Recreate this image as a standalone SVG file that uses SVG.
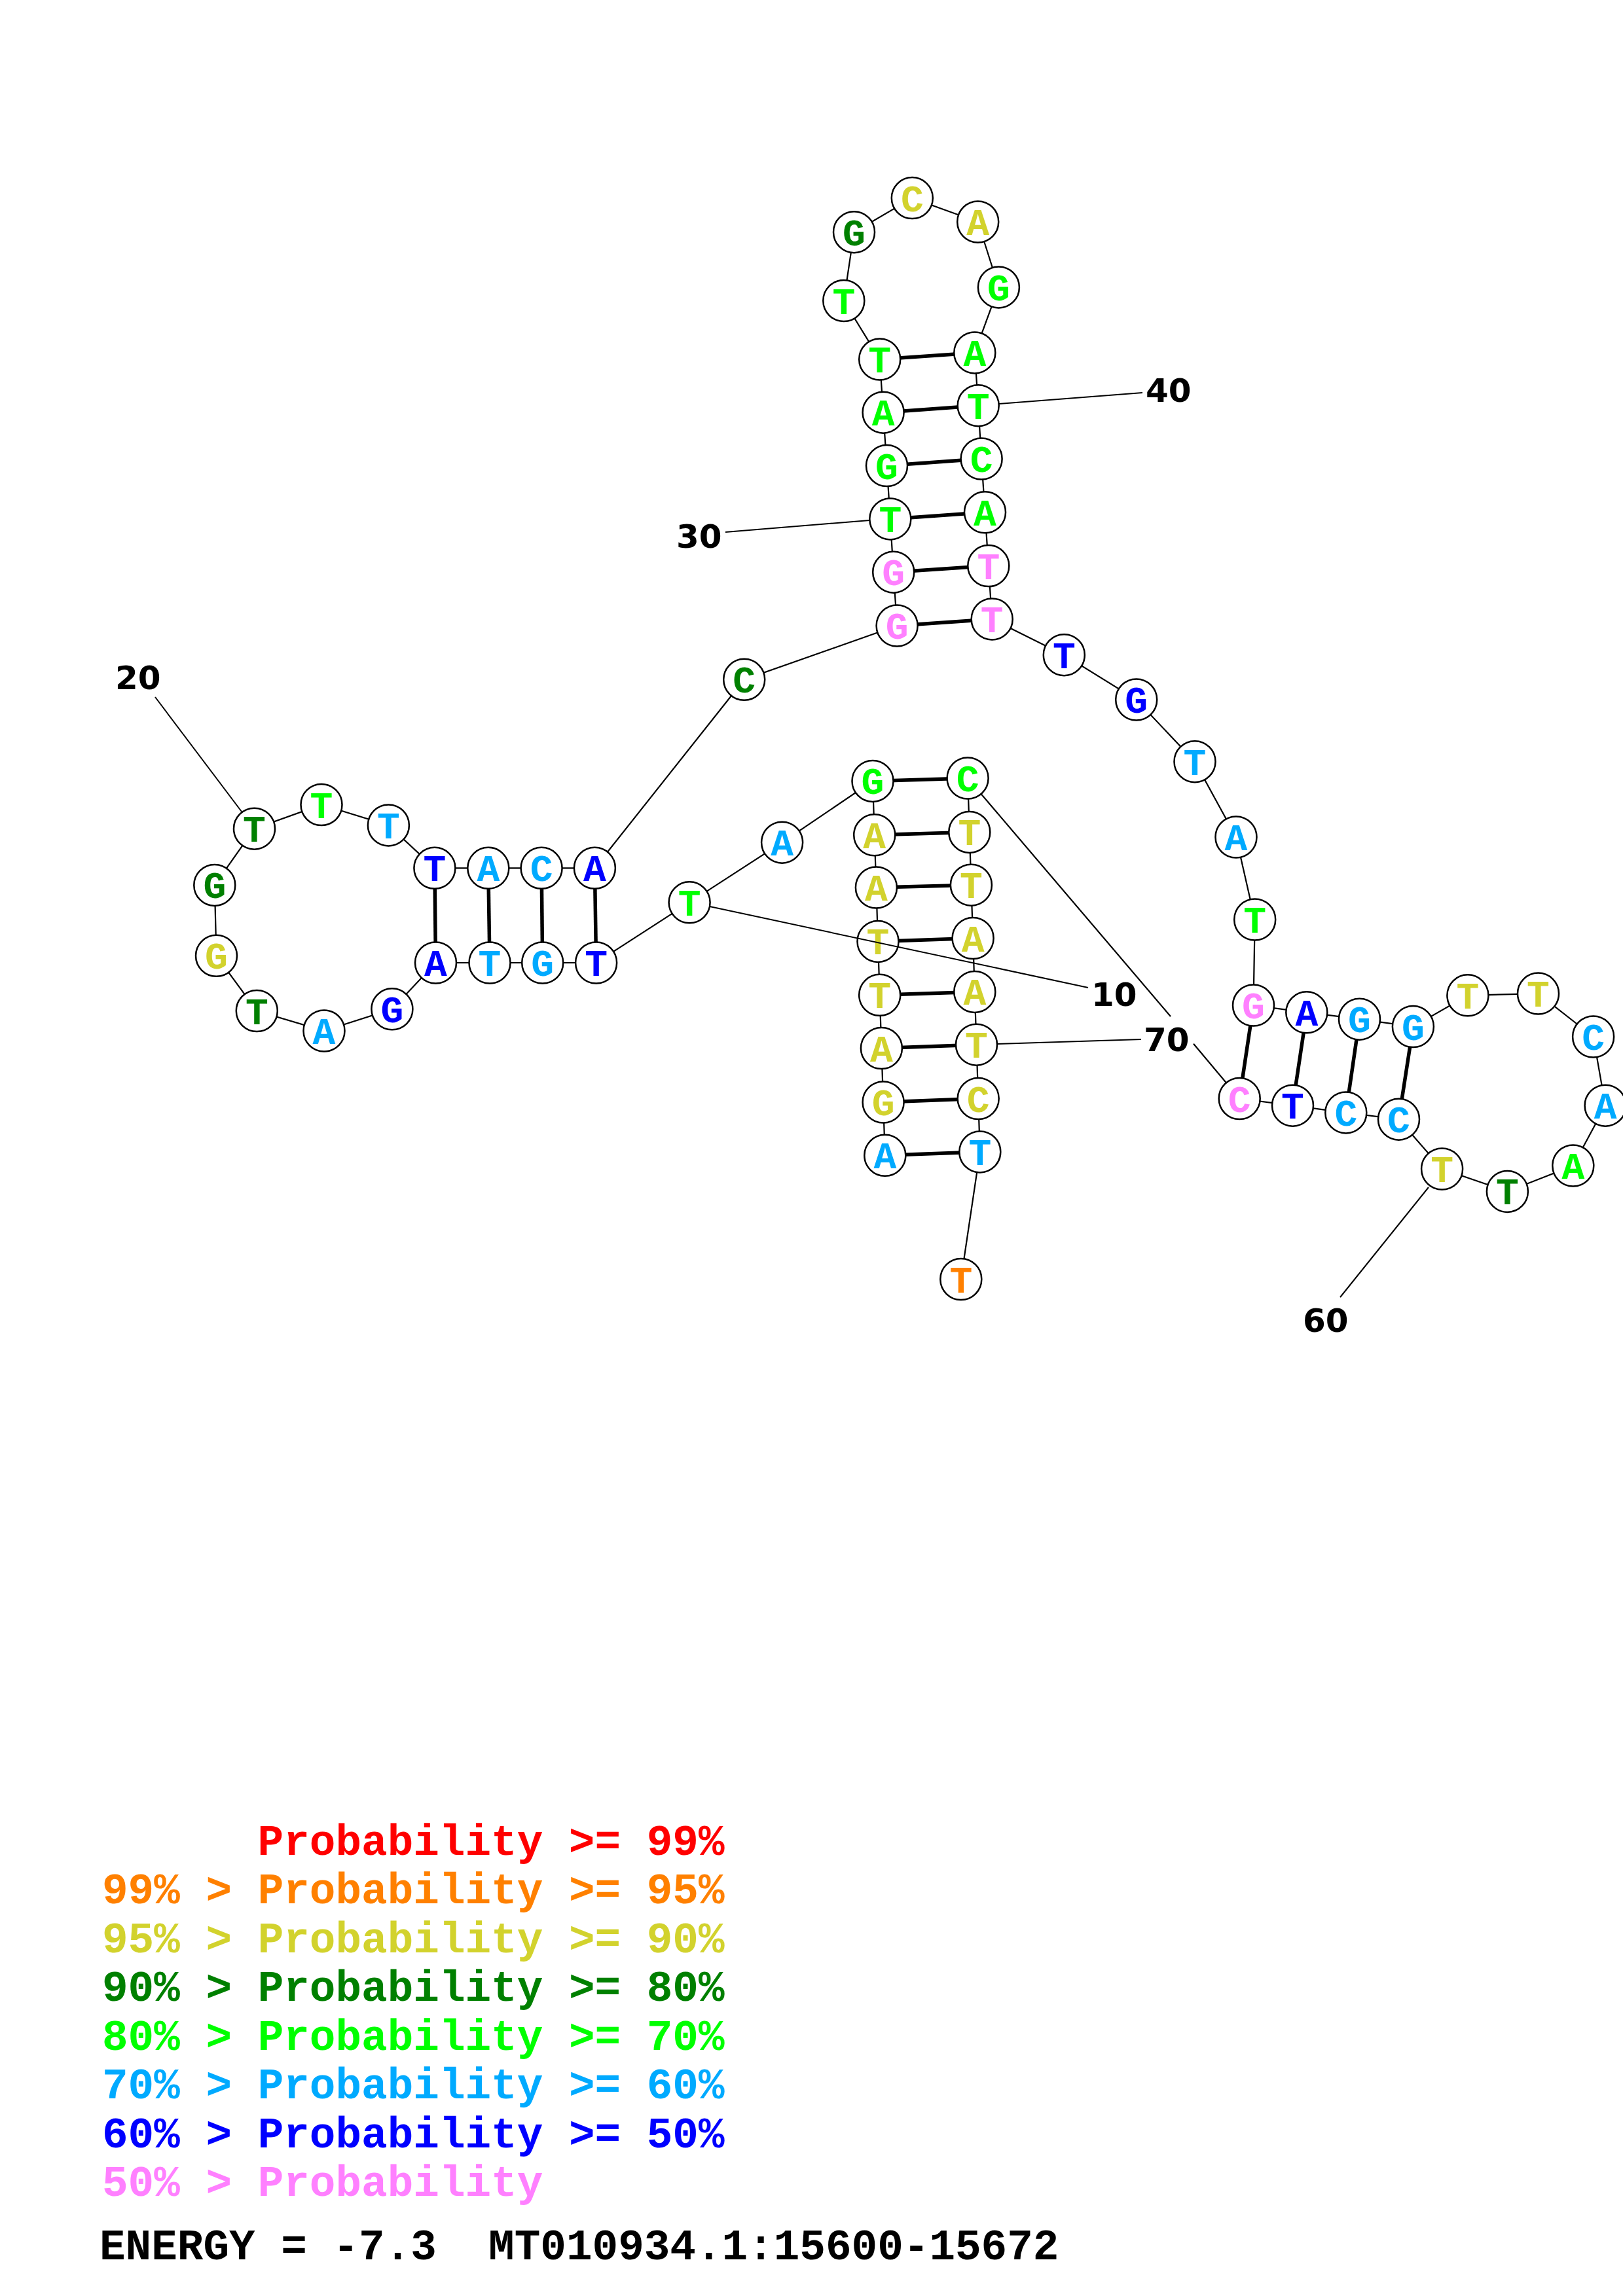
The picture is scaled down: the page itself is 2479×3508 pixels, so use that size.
<svg xmlns="http://www.w3.org/2000/svg" width="2479" height="3508" viewBox="0 0 2479 3508">
<style>
.bb{stroke:#000;stroke-width:2.2;fill:none}
.bp{stroke:#000;stroke-width:5.5;fill:none}
.lbl{stroke:#000;stroke-width:2;fill:none}
circle{fill:#fff;stroke:#000;stroke-width:2.5}
.n text{font-family:"Liberation Mono","Courier New",monospace;font-weight:bold;font-size:58px;text-anchor:middle}
.num{font-family:"DejaVu Sans","Liberation Sans",sans-serif;font-weight:bold;font-size:50px;fill:#000}
.leg{font-family:"Liberation Mono","Courier New",monospace;font-weight:bold;font-size:66px}
.r{fill:#FF0000}.o{fill:#FF8000}.y{fill:#D2D22D}.dg{fill:#008000}.g{fill:#00FF00}.lb{fill:#00AAFF}.b{fill:#0000FF}.p{fill:#FF80FF}.k{fill:#000}
</style>
<rect width="2479" height="3508" fill="#fff"/>
<g id="connectors">
<polyline class="bb" points="1351.8,1765.3 1349.1,1684 1346.4,1601.6 1343.7,1520.3 1341,1438.4 1338.4,1356 1335.7,1275.8 1333,1193.4 1194.6,1287.2 1053.1,1378.8 910.6,1471 828.7,1471 748,1471 665.5,1471 598.9,1541.8 495,1575 392.3,1544.5 330.5,1460.3 327.8,1352.4 388.5,1266.2 491,1229.5 593.4,1260.9 663.9,1326.3 745.8,1326.3 827.1,1326.3 908.4,1326.3 1136.7,1038.3 1370.1,956 1364.7,874.2 1359.8,792.9 1354.5,711.6 1349.1,630.2 1343.7,549 1288.8,459.5 1304.5,354.7 1393.3,302.6 1493.7,339 1525.4,438.9 1488.8,538.9 1494.2,619.7 1499.1,701 1504.5,782.8 1509.8,864.6 1515.2,945.9 1625.3,1000.7 1735.7,1069 1825,1163.7 1888,1279 1916.7,1405 1914.5,1536.1 1995.8,1546.8 2076.5,1557.2 2158.4,1568.6 2241.9,1520.8 2349.5,1518.1 2433.6,1584 2452.1,1689.2 2402.8,1781 2302.4,1820.4 2202.6,1786 2136.5,1710.2 2055.8,1699.9 1974.5,1689.2 1893.2,1678.5 1823,1594.7"/>
<polyline class="bb" points="1788,1553 1478.1,1189 1480.8,1271.4 1483.4,1352.2 1486.1,1433.5 1488.8,1515.4 1491.5,1596.2 1494.2,1678.5 1496.8,1759.9 1467.8,1954.5"/>
<g id="pairs">
<line class="bp" x1="1351.8" y1="1765.3" x2="1496.8" y2="1759.9"/>
<line class="bp" x1="1349.1" y1="1684" x2="1494.2" y2="1678.5"/>
<line class="bp" x1="1346.4" y1="1601.6" x2="1491.5" y2="1596.2"/>
<line class="bp" x1="1343.7" y1="1520.3" x2="1488.8" y2="1515.4"/>
<line class="bp" x1="1341" y1="1438.4" x2="1486.1" y2="1433.5"/>
<line class="bp" x1="1338.4" y1="1356" x2="1483.4" y2="1352.2"/>
<line class="bp" x1="1335.7" y1="1275.8" x2="1480.8" y2="1271.4"/>
<line class="bp" x1="1333" y1="1193.4" x2="1478.1" y2="1189"/>
<line class="bp" x1="910.6" y1="1471" x2="908.4" y2="1326.3"/>
<line class="bp" x1="828.7" y1="1471" x2="827.1" y2="1326.3"/>
<line class="bp" x1="748" y1="1471" x2="745.8" y2="1326.3"/>
<line class="bp" x1="665.5" y1="1471" x2="663.9" y2="1326.3"/>
<line class="bp" x1="1370.1" y1="956" x2="1515.2" y2="945.9"/>
<line class="bp" x1="1364.7" y1="874.2" x2="1509.8" y2="864.6"/>
<line class="bp" x1="1359.8" y1="792.9" x2="1504.5" y2="782.8"/>
<line class="bp" x1="1354.5" y1="711.6" x2="1499.1" y2="701"/>
<line class="bp" x1="1349.1" y1="630.2" x2="1494.2" y2="619.7"/>
<line class="bp" x1="1343.7" y1="549" x2="1488.8" y2="538.9"/>
<line class="bp" x1="1914.5" y1="1536.1" x2="1893.2" y2="1678.5"/>
<line class="bp" x1="1995.8" y1="1546.8" x2="1974.5" y2="1689.2"/>
<line class="bp" x1="2076.5" y1="1557.2" x2="2055.8" y2="1699.9"/>
<line class="bp" x1="2158.4" y1="1568.6" x2="2136.5" y2="1710.2"/>
</g>
</g>
<g class="n">
<g id="n1"><circle cx="1351.8" cy="1765.3" r="31.5"/><text x="1351.8" y="1785.3" class="lb">A</text></g>
<g id="n2"><circle cx="1349.1" cy="1684" r="31.5"/><text x="1349.1" y="1704" class="y">G</text></g>
<g id="n3"><circle cx="1346.4" cy="1601.6" r="31.5"/><text x="1346.4" y="1621.6" class="y">A</text></g>
<g id="n4"><circle cx="1343.7" cy="1520.3" r="31.5"/><text x="1343.7" y="1540.3" class="y">T</text></g>
<g id="n5"><circle cx="1341" cy="1438.4" r="31.5"/><text x="1341" y="1458.4" class="y">T</text></g>
<g id="n6"><circle cx="1338.4" cy="1356" r="31.5"/><text x="1338.4" y="1376" class="y">A</text></g>
<g id="n7"><circle cx="1335.7" cy="1275.8" r="31.5"/><text x="1335.7" y="1295.8" class="y">A</text></g>
<g id="n8"><circle cx="1333" cy="1193.4" r="31.5"/><text x="1333" y="1213.4" class="g">G</text></g>
<g id="n9"><circle cx="1194.6" cy="1287.2" r="31.5"/><text x="1194.6" y="1307.2" class="lb">A</text></g>
<g id="n10"><circle cx="1053.1" cy="1378.8" r="31.5"/><text x="1053.1" y="1398.8" class="g">T</text></g>
<g id="n11"><circle cx="910.6" cy="1471" r="31.5"/><text x="910.6" y="1491" class="b">T</text></g>
<g id="n12"><circle cx="828.7" cy="1471" r="31.5"/><text x="828.7" y="1491" class="lb">G</text></g>
<g id="n13"><circle cx="748" cy="1471" r="31.5"/><text x="748" y="1491" class="lb">T</text></g>
<g id="n14"><circle cx="665.5" cy="1471" r="31.5"/><text x="665.5" y="1491" class="b">A</text></g>
<g id="n15"><circle cx="598.9" cy="1541.8" r="31.5"/><text x="598.9" y="1561.8" class="b">G</text></g>
<g id="n16"><circle cx="495" cy="1575" r="31.5"/><text x="495" y="1595" class="lb">A</text></g>
<g id="n17"><circle cx="392.3" cy="1544.5" r="31.5"/><text x="392.3" y="1564.5" class="dg">T</text></g>
<g id="n18"><circle cx="330.5" cy="1460.3" r="31.5"/><text x="330.5" y="1480.3" class="y">G</text></g>
<g id="n19"><circle cx="327.8" cy="1352.4" r="31.5"/><text x="327.8" y="1372.4" class="dg">G</text></g>
<g id="n20"><circle cx="388.5" cy="1266.2" r="31.5"/><text x="388.5" y="1286.2" class="dg">T</text></g>
<g id="n21"><circle cx="491" cy="1229.5" r="31.5"/><text x="491" y="1249.5" class="g">T</text></g>
<g id="n22"><circle cx="593.4" cy="1260.9" r="31.5"/><text x="593.4" y="1280.9" class="lb">T</text></g>
<g id="n23"><circle cx="663.9" cy="1326.3" r="31.5"/><text x="663.9" y="1346.3" class="b">T</text></g>
<g id="n24"><circle cx="745.8" cy="1326.3" r="31.5"/><text x="745.8" y="1346.3" class="lb">A</text></g>
<g id="n25"><circle cx="827.1" cy="1326.3" r="31.5"/><text x="827.1" y="1346.3" class="lb">C</text></g>
<g id="n26"><circle cx="908.4" cy="1326.3" r="31.5"/><text x="908.4" y="1346.3" class="b">A</text></g>
<g id="n27"><circle cx="1136.7" cy="1038.3" r="31.5"/><text x="1136.7" y="1058.3" class="dg">C</text></g>
<g id="n28"><circle cx="1370.1" cy="956" r="31.5"/><text x="1370.1" y="976" class="p">G</text></g>
<g id="n29"><circle cx="1364.7" cy="874.2" r="31.5"/><text x="1364.7" y="894.2" class="p">G</text></g>
<g id="n30"><circle cx="1359.8" cy="792.9" r="31.5"/><text x="1359.8" y="812.9" class="g">T</text></g>
<g id="n31"><circle cx="1354.5" cy="711.6" r="31.5"/><text x="1354.5" y="731.6" class="g">G</text></g>
<g id="n32"><circle cx="1349.1" cy="630.2" r="31.5"/><text x="1349.1" y="650.2" class="g">A</text></g>
<g id="n33"><circle cx="1343.7" cy="549" r="31.5"/><text x="1343.7" y="569" class="g">T</text></g>
<g id="n34"><circle cx="1288.8" cy="459.5" r="31.5"/><text x="1288.8" y="479.5" class="g">T</text></g>
<g id="n35"><circle cx="1304.5" cy="354.7" r="31.5"/><text x="1304.5" y="374.7" class="dg">G</text></g>
<g id="n36"><circle cx="1393.3" cy="302.6" r="31.5"/><text x="1393.3" y="322.6" class="y">C</text></g>
<g id="n37"><circle cx="1493.7" cy="339" r="31.5"/><text x="1493.7" y="359" class="y">A</text></g>
<g id="n38"><circle cx="1525.4" cy="438.9" r="31.5"/><text x="1525.4" y="458.9" class="g">G</text></g>
<g id="n39"><circle cx="1488.8" cy="538.9" r="31.5"/><text x="1488.8" y="558.9" class="g">A</text></g>
<g id="n40"><circle cx="1494.2" cy="619.7" r="31.5"/><text x="1494.2" y="639.7" class="g">T</text></g>
<g id="n41"><circle cx="1499.1" cy="701" r="31.5"/><text x="1499.1" y="721" class="g">C</text></g>
<g id="n42"><circle cx="1504.5" cy="782.8" r="31.5"/><text x="1504.5" y="802.8" class="g">A</text></g>
<g id="n43"><circle cx="1509.8" cy="864.6" r="31.5"/><text x="1509.8" y="884.6" class="p">T</text></g>
<g id="n44"><circle cx="1515.2" cy="945.9" r="31.5"/><text x="1515.2" y="965.9" class="p">T</text></g>
<g id="n45"><circle cx="1625.3" cy="1000.7" r="31.5"/><text x="1625.3" y="1020.7" class="b">T</text></g>
<g id="n46"><circle cx="1735.7" cy="1069" r="31.5"/><text x="1735.7" y="1089" class="b">G</text></g>
<g id="n47"><circle cx="1825" cy="1163.7" r="31.5"/><text x="1825" y="1183.7" class="lb">T</text></g>
<g id="n48"><circle cx="1888" cy="1279" r="31.5"/><text x="1888" y="1299" class="lb">A</text></g>
<g id="n49"><circle cx="1916.7" cy="1405" r="31.5"/><text x="1916.7" y="1425" class="g">T</text></g>
<g id="n50"><circle cx="1914.5" cy="1536.1" r="31.5"/><text x="1914.5" y="1556.1" class="p">G</text></g>
<g id="n51"><circle cx="1995.8" cy="1546.8" r="31.5"/><text x="1995.8" y="1566.8" class="b">A</text></g>
<g id="n52"><circle cx="2076.5" cy="1557.2" r="31.5"/><text x="2076.5" y="1577.2" class="lb">G</text></g>
<g id="n53"><circle cx="2158.4" cy="1568.6" r="31.5"/><text x="2158.4" y="1588.6" class="lb">G</text></g>
<g id="n54"><circle cx="2241.9" cy="1520.8" r="31.5"/><text x="2241.9" y="1540.8" class="y">T</text></g>
<g id="n55"><circle cx="2349.5" cy="1518.1" r="31.5"/><text x="2349.5" y="1538.1" class="y">T</text></g>
<g id="n56"><circle cx="2433.6" cy="1584" r="31.5"/><text x="2433.6" y="1604" class="lb">C</text></g>
<g id="n57"><circle cx="2452.1" cy="1689.2" r="31.5"/><text x="2452.1" y="1709.2" class="lb">A</text></g>
<g id="n58"><circle cx="2402.8" cy="1781" r="31.5"/><text x="2402.8" y="1801" class="g">A</text></g>
<g id="n59"><circle cx="2302.4" cy="1820.4" r="31.5"/><text x="2302.4" y="1840.4" class="dg">T</text></g>
<g id="n60"><circle cx="2202.6" cy="1786" r="31.5"/><text x="2202.6" y="1806" class="y">T</text></g>
<g id="n61"><circle cx="2136.5" cy="1710.2" r="31.5"/><text x="2136.5" y="1730.2" class="lb">C</text></g>
<g id="n62"><circle cx="2055.8" cy="1699.9" r="31.5"/><text x="2055.8" y="1719.9" class="lb">C</text></g>
<g id="n63"><circle cx="1974.5" cy="1689.2" r="31.5"/><text x="1974.5" y="1709.2" class="b">T</text></g>
<g id="n64"><circle cx="1893.2" cy="1678.5" r="31.5"/><text x="1893.2" y="1698.5" class="p">C</text></g>
<g id="n65"><circle cx="1478.1" cy="1189" r="31.5"/><text x="1478.1" y="1209" class="g">C</text></g>
<g id="n66"><circle cx="1480.8" cy="1271.4" r="31.5"/><text x="1480.8" y="1291.4" class="y">T</text></g>
<g id="n67"><circle cx="1483.4" cy="1352.2" r="31.5"/><text x="1483.4" y="1372.2" class="y">T</text></g>
<g id="n68"><circle cx="1486.1" cy="1433.5" r="31.5"/><text x="1486.1" y="1453.5" class="y">A</text></g>
<g id="n69"><circle cx="1488.8" cy="1515.4" r="31.5"/><text x="1488.8" y="1535.4" class="y">A</text></g>
<g id="n70"><circle cx="1491.5" cy="1596.2" r="31.5"/><text x="1491.5" y="1616.2" class="y">T</text></g>
<g id="n71"><circle cx="1494.2" cy="1678.5" r="31.5"/><text x="1494.2" y="1698.5" class="y">C</text></g>
<g id="n72"><circle cx="1496.8" cy="1759.9" r="31.5"/><text x="1496.8" y="1779.9" class="lb">T</text></g>
<g id="n73"><circle cx="1467.8" cy="1954.5" r="31.5"/><text x="1467.8" y="1974.5" class="o">T</text></g>
</g>
<g id="labels">
<line class="lbl" x1="1084" y1="1385" x2="1662" y2="1509"/>
<text class="num" x="1667" y="1537">10</text>
<line class="lbl" x1="369" y1="1240" x2="237" y2="1065"/>
<text class="num" x="176" y="1053">20</text>
<line class="lbl" x1="1328" y1="795" x2="1108" y2="813"/>
<text class="num" x="1033" y="837">30</text>
<line class="lbl" x1="1526" y1="617" x2="1745" y2="600"/>
<text class="num" x="1750" y="614">40</text>
<line class="lbl" x1="2182" y1="1814" x2="2047" y2="1982"/>
<text class="num" x="1990" y="2035">60</text>
<line class="lbl" x1="1523" y1="1595" x2="1743" y2="1588"/>
<text class="num" x="1747" y="1606">70</text>
</g>
<g id="legend" class="leg">
<text x="393.6" y="2834" class="r">Probability &gt;= 99%</text>
<text x="156" y="2908" class="o">99% &gt; Probability &gt;= 95%</text>
<text x="156" y="2983" class="y">95% &gt; Probability &gt;= 90%</text>
<text x="156" y="3057" class="dg">90% &gt; Probability &gt;= 80%</text>
<text x="156" y="3132" class="g">80% &gt; Probability &gt;= 70%</text>
<text x="156" y="3206" class="lb">70% &gt; Probability &gt;= 60%</text>
<text x="156" y="3281" class="b">60% &gt; Probability &gt;= 50%</text>
<text x="156" y="3355" class="p">50% &gt; Probability</text>
<text x="152" y="3452" class="k" xml:space="preserve">ENERGY = -7.3  MT010934.1:15600-15672</text>
</g>
</svg>
